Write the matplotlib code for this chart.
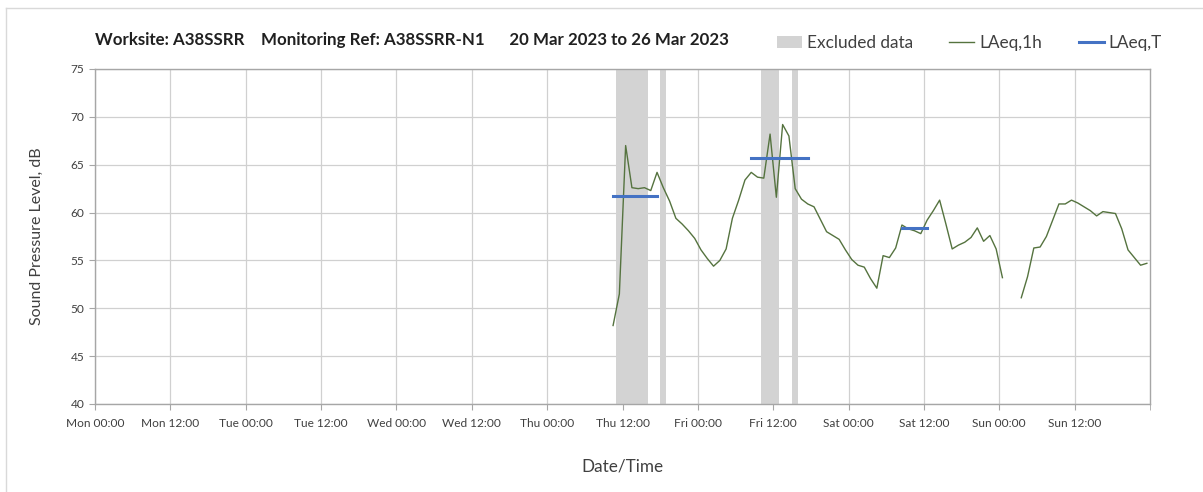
import numpy as np
import matplotlib
matplotlib.use("Agg")
import matplotlib.pyplot as plt
from matplotlib.patches import Patch
from matplotlib.lines import Line2D

plt.rcParams["font.family"] = ["Lato", "DejaVu Sans"]

# hours since Mon 20 Mar 2023 00:00, hourly LAeq values start at Thu 10:30
start_hour = 82.5
laeq_1h = [
    48.2, 51.5, 67.0, 62.6, 62.5, 62.6, 62.3, 64.2, 62.6, 61.2,
    59.4, 58.8, 58.1, 57.3, 56.1, 55.2, 54.4, 55.0, 56.2, 59.4,
    61.3, 63.4, 64.2, 63.7, 63.6, 68.2, 61.6, 69.2, 68.0, 62.5,
    61.4, 60.9, 60.6, 59.3, 58.0, 57.6, 57.2, 56.1, 55.1, 54.5,
    54.3, 53.1, 52.1, 55.5, 55.3, 56.3, 58.7, 58.3, 58.1, 57.8,
    59.2, 60.2, 61.3, 58.8, 56.2, 56.6, 56.9, 57.4, 58.4, 57.0,
    57.6, 56.2, 53.2, None, None, 51.1, 53.3, 56.3, 56.4, 57.5,
    59.2, 60.9, 60.9, 61.3, 61.0, 60.6, 60.2, 59.65, 60.1, 60.0,
    59.9, 58.3, 56.1, 55.3, 54.5, 54.7,
]

# excluded periods (start hour, end hour)
excluded = [(83.0, 88.0), (90.0, 91.0), (106.0, 109.0), (111.0, 112.0)]

# LAeq,T periods (start hour, end hour, level)
laeq_t = [(82.5, 89.5, 61.7), (104.5, 113.5, 65.65), (128.5, 132.5, 58.4)]

tick_labels = ["Mon 00:00", "Mon 12:00", "Tue 00:00", "Tue 12:00", "Wed 00:00",
               "Wed 12:00", "Thu 00:00", "Thu 12:00", "Fri 00:00", "Fri 12:00",
               "Sat 00:00", "Sat 12:00", "Sun 00:00", "Sun 12:00"]

hours = start_hour + np.arange(len(laeq_1h))
vals = np.array([np.nan if v is None else v for v in laeq_1h], dtype=float)

fig = plt.figure(figsize=(12.03, 4.92), dpi=100)
ax = fig.add_axes([95 / 1203, 1 - 404 / 492, 1055 / 1203, 335 / 492])

for a, b in excluded:
    ax.axvspan(a, b, color="#d3d3d3", lw=0, zorder=1)

ax.plot(hours, vals, color="#55733f", lw=1.0, zorder=3)
for a, b, lev in laeq_t:
    ax.plot([a, b], [lev, lev], color="#4472c4", lw=2.2, zorder=4)

ax.set_xlim(0, 168)
ax.set_ylim(40, 75)
ax.set_xticks(np.arange(0, 168, 12))
ax.set_xticks([168], minor=True)
ax.set_xticklabels(tick_labels)
ax.set_yticks(np.arange(40, 76, 5))
ax.grid(True, color="#d0d0d0", lw=0.9, zorder=0)
ax.set_axisbelow(True)
for s in ax.spines.values():
    s.set_color("#a6a6a6")
    s.set_linewidth(1.0)
ax.tick_params(axis="both", which="both", colors="#a6a6a6", labelcolor="#404040",
               labelsize=8.6, length=4, direction="out")
ax.tick_params(axis="x", pad=6)

ax.set_ylabel("Sound Pressure Level, dB", fontsize=11.5, color="#404040", labelpad=19)
ax.set_xlabel("Date/Time", fontsize=12.3, color="#404040", labelpad=21)

fig.text(95 / 1203, 1 - 40 / 492, "Worksite: A38SSRR    Monitoring Ref: A38SSRR-N1      20 Mar 2023 to 26 Mar 2023",
         fontsize=12.2, fontweight="bold", color="#202020", va="center")

handles = [Patch(facecolor="#d3d3d3", edgecolor="none", label="Excluded data"),
           Line2D([], [], color="#55733f", lw=1.0, label="LAeq,1h"),
           Line2D([], [], color="#4472c4", lw=2.2, label="LAeq,T")]
fig.legend(handles=handles, loc="center right", bbox_to_anchor=(1162 / 1203, 1 - 43 / 492),
           ncol=3, frameon=False, fontsize=12.4, handlelength=1.45, handletextpad=0.3,
           columnspacing=2.1, labelcolor="#404040", borderaxespad=0, borderpad=0)

# outer chart border
fig.add_artist(Line2D([6 / 1203, 6 / 1203], [0, 1 - 8 / 492], transform=fig.transFigure,
                      color="#d9d9d9", lw=1))
fig.add_artist(Line2D([6 / 1203, 1], [1 - 8 / 492, 1 - 8 / 492], transform=fig.transFigure,
                      color="#d9d9d9", lw=1))

fig.savefig("out.png", dpi=100)
